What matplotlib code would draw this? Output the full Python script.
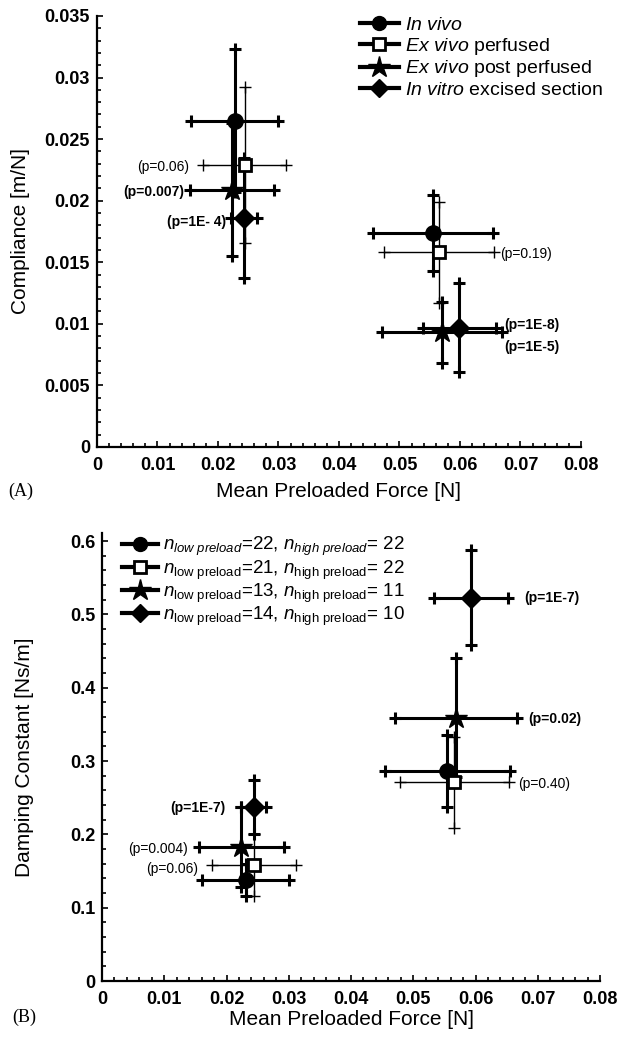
import matplotlib
matplotlib.use("Agg")
import matplotlib.pyplot as plt
from matplotlib.lines import Line2D
from matplotlib.ticker import MultipleLocator, AutoMinorLocator, FormatStrFormatter

plt.rcParams["font.family"] = ["Liberation Sans", "DejaVu Sans"]
plt.rcParams["mathtext.fontset"] = "custom"
plt.rcParams["mathtext.rm"] = "Liberation Sans"
plt.rcParams["mathtext.it"] = "Liberation Sans:italic"
plt.rcParams["mathtext.bf"] = "Liberation Sans:bold"

# groups: in vivo, ex vivo perfused, ex vivo post perfused, in vitro excised
labels_a = [
    r"$\it{In\ vivo}$",
    r"$\it{Ex\ vivo}$ perfused",
    r"$\it{Ex\ vivo}$ post perfused",
    r"$\it{In\ vitro}$ excised section",
]
labels_b = [
    r"$n_{low\ preload}$=22, $n_{high\ preload}$= 22",
    r"$n_{\rm low\ preload}$=21, $n_{\rm high\ preload}$= 22",
    r"$n_{\rm low\ preload}$=13, $n_{\rm high\ preload}$= 11",
    r"$n_{\rm low\ preload}$=14, $n_{\rm high\ preload}$= 10",
]

# panel A: compliance
force_lo_a = [0.0228, 0.0244, 0.0223, 0.0243]
force_lo_a_err = [0.0072, 0.0069, 0.0069, 0.0021]
comp_lo = [0.0265, 0.0229, 0.0209, 0.0186]
comp_lo_err = [0.0058, 0.0063, 0.0054, 0.0049]
force_hi_a = [0.0555, 0.0565, 0.0570, 0.0599]
force_hi_a_err = [0.0099, 0.0091, 0.0099, 0.0060]
comp_hi = [0.0174, 0.0158, 0.0093, 0.0097]
comp_hi_err = [0.0031, 0.0041, 0.0025, 0.0036]

# panel B: damping
force_lo_b = [0.0231, 0.0244, 0.0224, 0.0244]
force_lo_b_err = [0.0070, 0.0068, 0.0068, 0.0020]
damp_lo = [0.138, 0.158, 0.183, 0.237]
damp_lo_err = [0.022, 0.042, 0.055, 0.037]
force_hi_b = [0.0555, 0.0566, 0.0569, 0.0593]
force_hi_b_err = [0.0100, 0.0088, 0.0098, 0.0060]
damp_hi = [0.286, 0.271, 0.359, 0.523]
damp_hi_err = [0.049, 0.062, 0.081, 0.065]

# p-value annotations: text, x, y, align, bold
pvals_a = [
    ("(p=0.06)", 0.0152, 0.0227, "right", False),
    ("(p=0.007)", 0.0144, 0.0207, "right", True),
    ("(p=1E- 4)", 0.0214, 0.0183, "right", True),
    ("(p=0.19)", 0.0667, 0.0157, "left", False),
    ("(p=1E-8)", 0.0673, 0.0099, "left", True),
    ("(p=1E-5)", 0.0673, 0.0081, "left", True),
]
pvals_b = [
    ("(p=1E-7)", 0.0678, 0.523, "left", True),
    ("(p=0.02)", 0.0685, 0.357, "left", True),
    ("(p=0.40)", 0.0669, 0.269, "left", False),
    ("(p=1E-7)", 0.0198, 0.236, "right", True),
    ("(p=0.004)", 0.0138, 0.180, "right", False),
    ("(p=0.06)", 0.0155, 0.153, "right", False),
]

markers = ["o", "s", "*", "D"]
msizes = [11, 9, 16, 10]
faces = ["k", "w", "k", "k"]
bar_lw = [2.2, 1.0, 2.2, 2.2]


def draw_points(ax, xs, xerrs, ys, yerrs):
    for i in range(len(xs)):
        x, y, xe, ye = xs[i], ys[i], xerrs[i], yerrs[i]
        ax.errorbar(x, y, xerr=xe, yerr=ye, fmt="none", ecolor="k",
                    elinewidth=bar_lw[i], capsize=0, zorder=2)
        ax.plot([x - xe, x + xe], [y, y], "+", color="k", ms=9,
                mew=bar_lw[i], zorder=2)
        ax.plot([x, x], [y - ye, y + ye], "+", color="k", ms=9,
                mew=bar_lw[i], zorder=2)
        ax.plot(x, y, marker=markers[i], ms=msizes[i], mfc=faces[i],
                mec="k", mew=2 if i == 1 else 1, ls="none", zorder=3)


def style_axes(ax, ymax, ystep, ylabel):
    ax.set_xlim(0, 0.08)
    ax.set_ylim(0, ymax)
    ax.spines["top"].set_visible(False)
    ax.spines["right"].set_visible(False)
    ax.spines["left"].set_linewidth(1.6)
    ax.spines["bottom"].set_linewidth(1.6)
    ax.xaxis.set_major_locator(MultipleLocator(0.01))
    ax.yaxis.set_major_locator(MultipleLocator(ystep))
    ax.xaxis.set_minor_locator(AutoMinorLocator(5))
    ax.yaxis.set_minor_locator(AutoMinorLocator(5))
    ax.xaxis.set_major_formatter(FormatStrFormatter("%g"))
    ax.yaxis.set_major_formatter(FormatStrFormatter("%g"))
    ax.tick_params(which="both", direction="in", width=1.2)
    ax.tick_params(which="major", length=4)
    ax.tick_params(which="minor", length=3)
    ax.tick_params(axis="x", pad=7, labelsize=13)
    ax.tick_params(axis="y", pad=5, labelsize=13)
    for lab in ax.get_xticklabels() + ax.get_yticklabels():
        lab.set_fontweight("bold")
    ax.set_xlabel("Mean Preloaded Force [N]", fontsize=15)
    ax.set_ylabel(ylabel, fontsize=15)


def add_pvals(ax, pvals):
    for txt, x, y, ha, bold in pvals:
        ax.text(x, y, txt, ha=ha, va="center", fontsize=10,
                fontweight="bold" if bold else "normal")


def legend_handles():
    return [Line2D([0], [0], color="k", lw=3, marker=markers[i],
                   ms=msizes[i] - (1 if i != 2 else 0), mfc=faces[i],
                   mec="k", mew=2 if i == 1 else 1)
            for i in range(4)]


fig = plt.figure(figsize=(6.19, 10.37), dpi=100)

ax_a = fig.add_axes([0.1567, 0.5690, 0.7819, 0.4156])
draw_points(ax_a, force_lo_a, force_lo_a_err, comp_lo, comp_lo_err)
draw_points(ax_a, force_hi_a, force_hi_a_err, comp_hi, comp_hi_err)
add_pvals(ax_a, pvals_a)
style_axes(ax_a, 0.035, 0.005, "Compliance [m/N]")
ax_a.yaxis.set_label_coords(-0.138, 0.5)
ax_a.xaxis.set_label_coords(0.5, -0.081)
ax_a.legend(legend_handles(), labels_a, loc="upper left",
            bbox_to_anchor=(0.543, 1.0), frameon=False, fontsize=14,
            handlelength=2.0, handletextpad=0.3, labelspacing=0.1,
            borderpad=0, borderaxespad=0)

ax_b = fig.add_axes([0.1648, 0.0540, 0.8045, 0.4320])
draw_points(ax_b, force_lo_b, force_lo_b_err, damp_lo, damp_lo_err)
draw_points(ax_b, force_hi_b, force_hi_b_err, damp_hi, damp_hi_err)
add_pvals(ax_b, pvals_b)
style_axes(ax_b, 0.611, 0.1, "Damping Constant [Ns/m]")
ax_b.yaxis.set_label_coords(-0.137, 0.5)
ax_b.xaxis.set_label_coords(0.5, -0.065)
ax_b.legend(legend_handles(), labels_b, loc="upper left",
            bbox_to_anchor=(0.040, 0.995), frameon=False, fontsize=13.5,
            handlelength=1.9, handletextpad=0.3, labelspacing=0.0,
            borderpad=0, borderaxespad=0)

fig.text(8 / 619, 1 - 491 / 1037, "(A)", family="Liberation Serif",
         fontsize=13, va="center")
fig.text(12 / 619, 1 - 1017 / 1037, "(B)", family="Liberation Serif",
         fontsize=13, va="center")

fig.savefig("out.png", dpi=100)
